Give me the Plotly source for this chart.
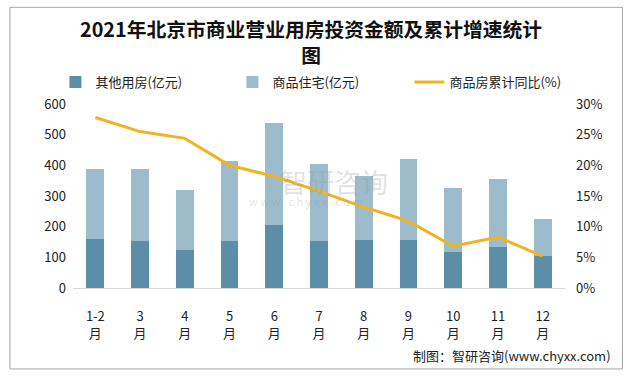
import plotly.graph_objects as go

months = ["1-2<br>月", "3<br>月", "4<br>月", "5<br>月", "6<br>月", "7<br>月",
          "8<br>月", "9<br>月", "10<br>月", "11<br>月", "12<br>月"]
other_use = [159, 152, 123, 152, 205, 152, 156, 156, 117, 133, 103]
residential = [229, 236, 196, 262, 333, 252, 209, 264, 209, 222, 121]
cum_growth = [0.278, 0.255, 0.244, 0.200, 0.182, 0.158, 0.132, 0.109, 0.068, 0.083, 0.052]

names = ["其他用房(亿元)", "商品住宅(亿元)", "商品房累计同比(%)"]
title = "2021年北京市商业营业用房投资金额及累计增速统计<br>图"
source = "制图：智研咨询(www.chyxx.com)"

W, H = 635, 378
ML, MR, MT, MB = 72.6, 70, 104, 90.3
PW, PH = W - ML - MR, H - MT - MB

def px(x):
    return (x - ML) / PW

def py(y):
    return (H - MB - y) / PH

font_cjk = "Noto Sans CJK SC, Noto Sans, sans-serif"

fig = go.Figure()
fig.add_trace(go.Bar(x=months, y=other_use, name=names[0], marker_color="#5C8FA7",
                     marker_line_width=0))
fig.add_trace(go.Bar(x=months, y=residential, name=names[1], marker_color="#9DBCCB",
                     marker_line_width=0))
fig.add_trace(go.Scatter(x=months, y=cum_growth, name=names[2], yaxis="y2",
                         mode="lines", line=dict(color="#F0B323", width=3)))

fig.update_layout(
    width=W, height=H,
    margin=dict(l=ML, r=MR, t=MT, b=MB, autoexpand=False),
    paper_bgcolor="white", plot_bgcolor="white",
    barmode="stack", bargap=0.6,
    font=dict(family=font_cjk, size=13, color="#222222"),
    showlegend=True,
    legend=dict(orientation="h", traceorder="normal", x=px(55), xanchor="left",
                y=py(82), yanchor="middle",
                font=dict(size=13, color="#222222"), itemwidth=30,
                entrywidth=132, entrywidthmode="pixels", bgcolor="rgba(0,0,0,0)"),
    xaxis=dict(showgrid=False, showline=True, linecolor="#D9D9D9", linewidth=1,
               ticks="", tickfont=dict(size=13, color="#222222"), ticklabelstandoff=16),
    yaxis=dict(range=[0, 600], dtick=100, showgrid=False, zeroline=False,
               ticks="", tickfont=dict(size=13, color="#222222"), ticklabelstandoff=6),
    yaxis2=dict(range=[0, 0.30], dtick=0.05, tickformat=".0%", overlaying="y",
                side="right", showgrid=False, zeroline=False, ticks="",
                tickfont=dict(size=13, color="#222222"), ticklabelstandoff=10),
    shapes=[dict(type="rect", xref="paper", yref="paper",
                 x0=px(9.5), x1=px(622.5), y0=py(368.5), y1=py(7.5),
                 line=dict(color="#A6A6A6", width=1), fillcolor="rgba(0,0,0,0)",
                 layer="below")],
    annotations=[
        dict(text="<b>" + title + "</b>", xref="paper", yref="paper", x=px(311),
             y=py(42), xanchor="center", yanchor="middle", showarrow=False,
             font=dict(size=19.8, color="#111111")),
        dict(text=source, xref="paper", yref="paper", x=px(613), y=py(355),
             xanchor="right", yanchor="middle", showarrow=False,
             font=dict(size=13, color="#222222")),
        dict(text="智研咨询", xref="paper", yref="paper", x=px(278), y=py(181),
             xanchor="left", yanchor="middle", showarrow=False,
             font=dict(size=27, color="rgba(150,150,150,0.28)")),
        dict(text="w w w . c h y x x . c o m", xref="paper", yref="paper", x=px(247),
             y=py(201), xanchor="left", yanchor="middle", showarrow=False,
             font=dict(size=11, color="rgba(150,150,150,0.28)")),
    ],
)

fig.write_html("out.html", config={"displayModeBar": False},
               post_script="document.body.style.margin='0';")
